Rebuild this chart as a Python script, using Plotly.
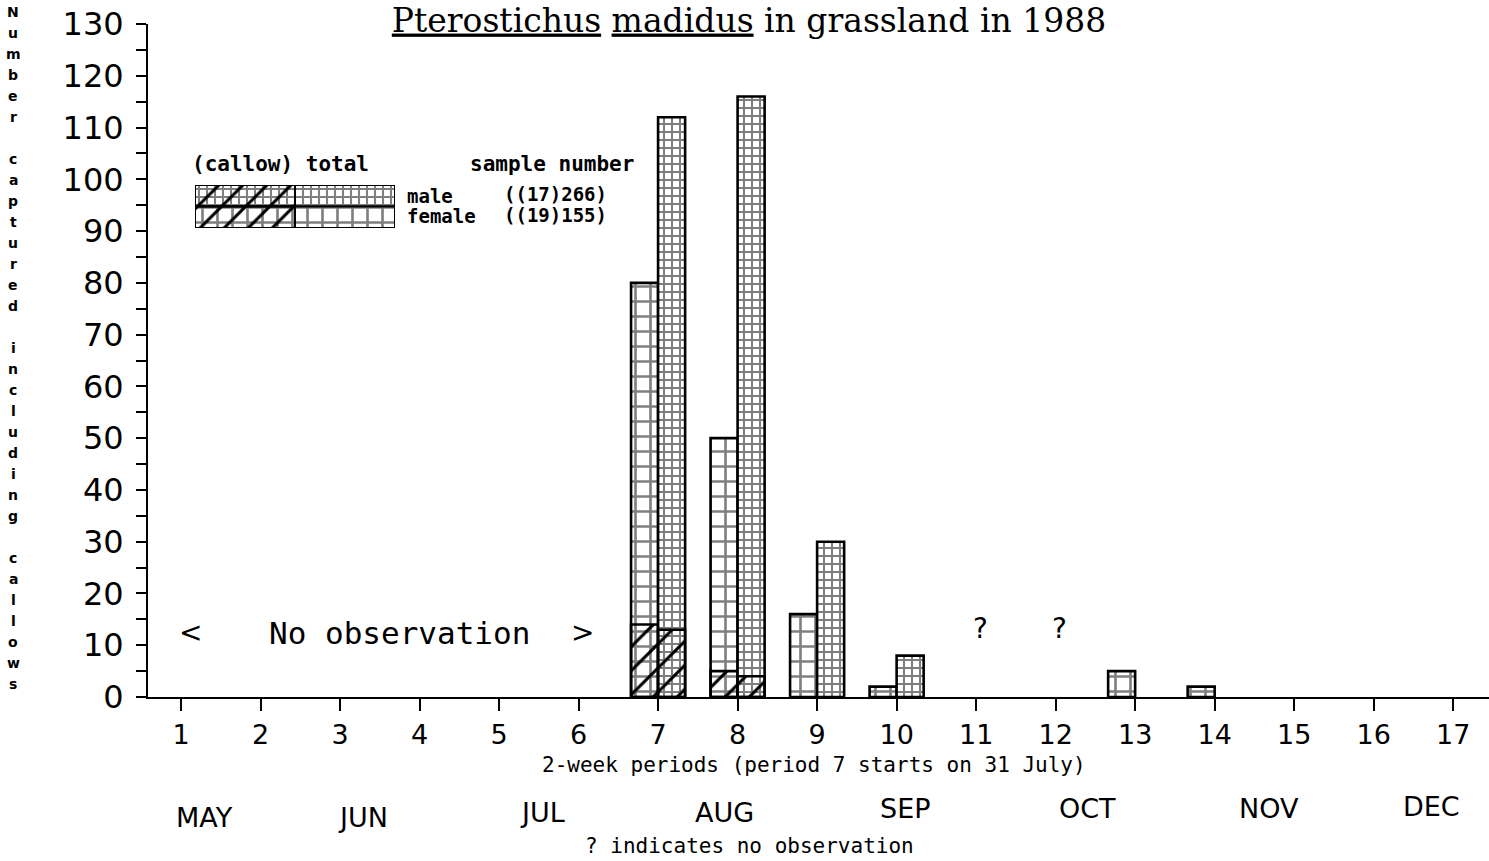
import plotly.graph_objects as go

# ---------------- data ----------------
periods = list(range(1, 18))
female_total = [None, None, None, None, None, None, 80, 50, 16, 2, None, None, 5, 2, 0, 0, 0]
male_total = [None, None, None, None, None, None, 112, 116, 30, 8, None, None, 0, 0, 0, 0, 0]
female_callow = [None, None, None, None, None, None, 14, 5, 0, 0, None, None, 0, 0, 0, 0, 0]
male_callow = [None, None, None, None, None, None, 13, 4, 0, 0, None, None, 0, 0, 0, 0, 0]
no_obs_periods = [11, 12]
months = ["MAY", "JUN", "JUL", "AUG", "SEP", "OCT", "NOV", "DEC"]
month_pos = [1.30, 3.29, 5.55, 7.83, 10.10, 12.40, 14.68, 16.73]
month_ypx = [817, 817, 812, 812, 808, 808, 808, 806]
y_ticks = list(range(0, 131, 10))
male_sample = "((17)266)"
female_sample = "((19)155)"

W, H = 1489, 861
L, R, T, B = 148, 0, 24, 164
PW, PH = W - L - R, H - T - B


def px(x):
    return (x - L) / PW


def py(y):
    return (H - B - y) / PH


def nz(vals):
    # zero-height bars are not drawn
    return [v if v else None for v in vals]


BLACK = "black"
FEM_GRID = dict(shape="+", size=15, solidity=0.32, fgcolor=BLACK, bgcolor="white")
MAL_GRID = dict(shape="+", size=8, solidity=0.45, fgcolor=BLACK, bgcolor="white")
HATCH = dict(shape="/", size=17, solidity=0.18, fgcolor=BLACK, fillmode="replace")
LINE = dict(color=BLACK, width=2.6)

fig = go.Figure()

# female (left of tick) and male (right of tick)
fig.add_trace(go.Bar(x=periods, y=nz(female_total), offset=-0.34, width=0.34,
                     marker=dict(color="white", pattern=FEM_GRID, line=LINE), showlegend=False))
fig.add_trace(go.Bar(x=periods, y=nz(female_callow), offset=-0.34, width=0.34,
                     marker=dict(color=BLACK, pattern=HATCH, line=LINE), showlegend=False))
fig.add_trace(go.Bar(x=periods, y=nz(male_total), offset=0.0, width=0.34,
                     marker=dict(color="white", pattern=MAL_GRID, line=LINE), showlegend=False))
fig.add_trace(go.Bar(x=periods, y=nz(male_callow), offset=0.0, width=0.34,
                     marker=dict(color=BLACK, pattern=HATCH, line=LINE), showlegend=False))

# ---- legend swatches on a small secondary axis pair ----
for row, grid in ((1.5, MAL_GRID), (0.5, FEM_GRID)):
    fig.add_trace(go.Bar(x=[2], y=[row], base=[0], width=1, orientation="h",
                         marker=dict(color="white", pattern=grid, line=dict(color=BLACK, width=2)),
                         xaxis="x2", yaxis="y2", showlegend=False))
    fig.add_trace(go.Bar(x=[1], y=[row], base=[0], width=1, orientation="h",
                         marker=dict(color=BLACK, pattern=HATCH, line=dict(color=BLACK, width=2)),
                         xaxis="x2", yaxis="y2", showlegend=False))

mono = "DejaVu Sans Mono"
sans = "DejaVu Sans"
ann = []

# vertical stacked y-axis title
ytitle = "Number captured including callows"
for i, ch in enumerate(ytitle):
    if ch == " ":
        continue
    ann.append(dict(x=px(13), y=py(12 + 21 * i), xref="paper", yref="paper", text=ch,
                    showarrow=False, font=dict(family=sans, size=14, color=BLACK, weight="bold"),
                    xanchor="center", yanchor="middle"))


def txt(x, y, s, size=19, bold=True, family=mono, xanchor="left"):
    ann.append(dict(x=px(x), y=py(y), xref="paper", yref="paper", text=s, showarrow=False,
                    font=dict(family=family, size=size, color=BLACK, weight="bold" if bold else "normal"),
                    xanchor=xanchor, yanchor="middle"))


# legend texts
txt(190, 164, "(callow) total", size=21)
txt(468, 164, "sample number", size=21)
txt(405, 196, "male", size=19)
txt(405, 216, "female", size=19)
txt(502, 194, male_sample, size=19)
txt(502, 215, female_sample, size=19)

# No observation text
ann.append(dict(x=1.12, y=12.4, xref="x", yref="y", text="<", showarrow=False,
                font=dict(family=sans, size=28, color=BLACK), xanchor="center", yanchor="middle"))
ann.append(dict(x=3.75, y=12.4, xref="x", yref="y", text="No observation", showarrow=False,
                font=dict(family=mono, size=31, color=BLACK), xanchor="center", yanchor="middle"))
ann.append(dict(x=6.05, y=12.4, xref="x", yref="y", text=">", showarrow=False,
                font=dict(family=sans, size=28, color=BLACK), xanchor="center", yanchor="middle"))
for p in no_obs_periods:
    ann.append(dict(x=p + 0.05, y=13.3, xref="x", yref="y", text="?", showarrow=False,
                    font=dict(family=sans, size=28, color=BLACK), xanchor="center", yanchor="middle"))

# x axis title, months, footnote
txt(814, 765, "2-week periods (period 7 starts on 31 July)", size=21, bold=False, xanchor="center")
for m, pos, ym in zip(months, month_pos, month_ypx):
    ann.append(dict(x=pos, y=py(ym), xref="x", yref="paper", text=m, showarrow=False,
                    font=dict(family=sans, size=27, color=BLACK), xanchor="center", yanchor="middle"))
txt(749, 846, "? indicates no observation", size=21, bold=False, xanchor="center")

fig.update_layout(
    width=W, height=H,
    margin=dict(l=L, r=R, t=T, b=B),
    paper_bgcolor="white", plot_bgcolor="white",
    barmode="overlay",
    title=dict(text="<u>Pterostichus</u> <u>madidus</u> in grassland in 1988",
               x=749 / W, xanchor="center", y=1 - 20 / H, yanchor="middle", yref="container",
               font=dict(family="DejaVu Serif", size=33, color=BLACK)),
    xaxis=dict(range=[0.585, 17.45], tickvals=periods, ticktext=[str(p) for p in periods],
               showgrid=False, zeroline=False, showline=True, linecolor=BLACK, linewidth=2,
               ticks="outside", ticklen=12, tickwidth=2, tickcolor=BLACK,
               tickfont=dict(family=sans, size=27, color=BLACK), ticklabelstandoff=1),
    yaxis=dict(range=[0, 130], tickvals=y_ticks, showgrid=False, zeroline=False,
               showline=True, linecolor=BLACK, linewidth=2,
               ticks="outside", ticklen=10, tickwidth=2, tickcolor=BLACK,
               minor=dict(dtick=5, tick0=0, ticks="outside", ticklen=10, tickwidth=2, tickcolor=BLACK),
               tickfont=dict(family=sans, size=32, color=BLACK), ticklabelstandoff=6),
    xaxis2=dict(domain=[px(195), px(395)], range=[0, 2], anchor="y2", visible=False, fixedrange=True),
    yaxis2=dict(domain=[py(228), py(185)], range=[0, 2], anchor="x2", visible=False, fixedrange=True),
    annotations=ann,
)

fig.write_html("out.html", config={"displayModeBar": False},
               post_script="document.body.style.margin='0px';")
